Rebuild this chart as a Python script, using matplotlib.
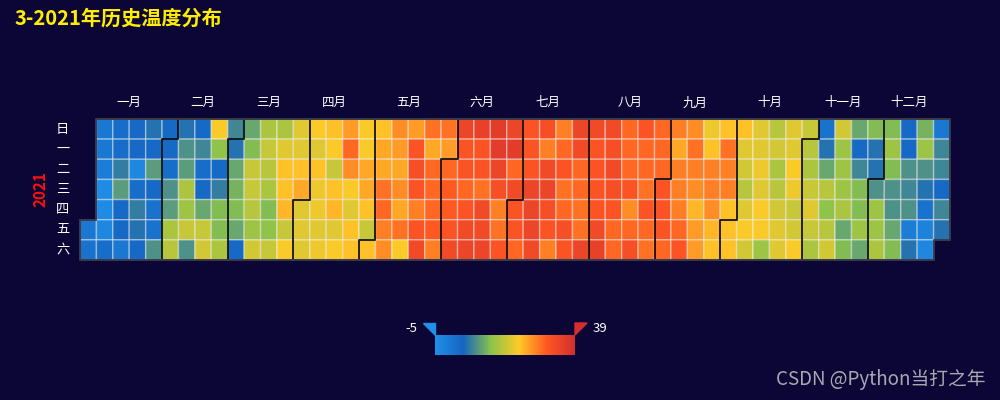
import numpy as np
import matplotlib
matplotlib.use('Agg')
import matplotlib.pyplot as plt
from matplotlib.colors import LinearSegmentedColormap, Normalize
from matplotlib.patches import Polygon
import datetime as dt

plt.rcParams['font.family'] = ['Noto Sans CJK SC', 'DejaVu Sans']

# ---------------- data ----------------
year = 2021
title = '3-2021年历史温度分布'
month_labels = ['一月', '二月', '三月', '四月', '五月', '六月',
                '七月', '八月', '九月', '十月', '十一月', '十二月']
weekday_labels = ['日', '一', '二', '三', '四', '五', '六']
vmin, vmax = -5, 39
scale_colors = ['#2090e8', '#1565c0', '#8bc34a', '#ffca28', '#ff5722', '#d32f2f']

jan = [0, 1, 0, 0, -1, -4, -4, -3, 2, 2, 2, 6, 9, 3, 3, 0, 3, 3, -3, 2, 6, 5, 3, 5, 3, 9, 3, 1, 1, 8, 3]
feb = [3, 2, 8, 9, 15, 16, 5, 8, 9, 15, 14, 17, 8, 3, 7, 2, 3, 10, 17, 18, 21, 13, 3, 6, 12, 12, 15, 7]
mar = [5, 10, 11, 12, 10, 3, 10, 12, 17, 17, 16, 14, 18, 15, 17, 16, 15, 12, 13, 17, 15, 19, 22, 22, 23, 17, 21, 19, 19, 22, 24]
apr = [19, 19, 19, 21, 19, 22, 20, 20, 19, 20, 22, 21, 17, 22, 23, 19, 21, 25, 29, 26, 21, 19, 22, 22, 21, 21, 24, 24, 22, 17]
may = [22, 22, 24, 24, 28, 29, 27, 26, 26, 25, 24, 26, 24, 28, 21, 25, 31, 32, 31, 27, 31, 33, 28, 24, 29, 29, 29, 30, 27, 28, 25]
jun = [29, 30, 30, 31, 33, 34, 31, 31, 29, 31, 33, 34, 35, 31, 31, 28, 33, 33, 34, 36, 36, 34, 32, 27, 28, 31, 34, 36, 29, 33]
jul = [31, 31, 29, 31, 31, 31, 34, 34, 34, 33, 32, 27, 33, 34, 32, 31, 27, 27, 29, 31, 28, 29, 32, 31, 34, 33, 29, 29, 28, 28, 34]
aug = [33, 31, 31, 31, 31, 33, 35, 33, 32, 33, 32, 31, 29, 29, 29, 29, 29, 31, 26, 29, 32, 31, 29, 29, 28, 31, 29, 28, 29, 29, 29]
sep = [31, 31, 31, 29, 27, 24, 27, 27, 27, 29, 31, 26, 28, 27, 26, 23, 25, 25, 20, 22, 27, 27, 26, 23, 22, 22, 28, 27, 27, 22]
octo = [22, 22, 22, 19, 18, 16, 19, 21, 18, 19, 19, 20, 19, 21, 21, 14, 16, 18, 15, 16, 18, 19, 19, 19, 19, 21, 20, 17, 18, 21, 17]
nov = [16, 15, 17, 19, 17, 15, 1, 5, 10, 16, 13, 16, 18, 18, 14, 14, 14, 15, 10, 12, 10, 3, 7, 12, 12, 14, 10, 12, 5, 5]
dec = [8, 14, 14, 15, 12, 14, 12, 8, 8, 10, 12, 3, 3, 8, 7, 8, -1, 5, 11, 14, 8, 5, 1, -2, -3, 0, 7, 7, 3, 7, 5]

monthly = [jan, feb, mar, apr, may, jun, jul, aug, sep, octo, nov, dec]

# ---------------- layout ----------------
BG = '#0c0636'
cmap = LinearSegmentedColormap.from_list('temp', scale_colors)
norm = Normalize(vmin, vmax)

temps = [v for m in monthly for v in m]
offset = (dt.date(year, 1, 1).weekday() + 1) % 7   # Sunday-first week
ncols = (offset + len(temps) - 1) // 7 + 1

grid = np.full((7, ncols), np.nan)
for i, t in enumerate(temps):
    p = i + offset
    grid[p % 7, p // 7] = t

fig = plt.figure(figsize=(10, 4), dpi=100, facecolor=BG)

ax = fig.add_axes([80 / 1000, 1 - 260 / 400, 870 / 1000, 141 / 400])
ax.set_facecolor(BG)
ax.pcolor(np.arange(ncols + 1), np.arange(8), np.ma.masked_invalid(grid),
          cmap=cmap, norm=norm, edgecolors=(1, 1, 1, 0.45), linewidth=1.0)
ax.set_xlim(0, ncols)
ax.set_ylim(7, 0)
ax.axis('off')

# month split lines and labels
starts = np.cumsum([0] + [len(m) for m in monthly])
for k in range(12):
    p0 = starts[k] + offset
    p1 = starts[k + 1] - 1 + offset
    c0, c1 = p0 // 7, p1 // 7
    ax.text((c0 + c1 + 1) / 2, -0.8, month_labels[k], color='white',
            fontsize=9, ha='center', va='center')
    if k == 0:
        continue
    c, r = p0 // 7, p0 % 7
    if r == 0:
        xs, ys = [c, c], [0, 7]
    else:
        xs, ys = [c + 1, c + 1, c, c], [0, r, r, 7]
    ax.plot(xs, ys, color='black', lw=1.4, alpha=0.85, solid_capstyle='butt', clip_on=False)

# outer outline
pe = len(temps) - 1 + offset
ce, re_ = pe // 7, pe % 7
c0, r0 = offset // 7, offset % 7
outline_x = [c0, c0 + 1, c0 + 1, ce + 1, ce + 1, ce, ce, c0, c0]
outline_y = [r0, r0, 0, 0, re_ + 1, re_ + 1, 7, 7, r0]
ax.plot(outline_x, outline_y, color='#3a3a4a', lw=1.4, clip_on=False)

for r, lab in enumerate(weekday_labels):
    ax.text(-1.05, r + 0.5, lab, color='white', fontsize=9.5, ha='center', va='center')
ax.text(-2.4, 3.5, str(year), color='#ff1010', fontsize=11, fontweight='bold',
        rotation=90, ha='center', va='center')

# title and watermark
fig.text(15 / 1000, 1 - 18 / 400, title, color='#ffee00', fontsize=14.5,
         fontweight='bold', ha='left', va='center')
fig.text(985 / 1000, 1 - 380 / 400, 'CSDN @Python当打之年', color='#a8a8b0',
         fontsize=13.5, ha='right', va='center')

# visual map
cax = fig.add_axes([435 / 1000, 1 - 355 / 400, 140 / 1000, 20 / 400])
cax.imshow(np.linspace(0, 1, 256)[None, :], aspect='auto', cmap=cmap,
           extent=[0, 1, 0, 1])
cax.set_xlim(0, 1)
cax.set_ylim(0, 1)
cax.axis('off')
h = 12 / 20
w = 12 / 140
cax.add_patch(Polygon([[-w, 1 + h], [0, 1 + h], [0, 1]], closed=True,
                      color=scale_colors[0], clip_on=False))
cax.add_patch(Polygon([[1, 1 + h], [1 + w, 1 + h], [1, 1]], closed=True,
                      color=scale_colors[-1], clip_on=False))
cax.text(-w - 0.04, 1 + h / 2 + 0.05, str(vmin), color='white', fontsize=9.5,
         ha='right', va='center')
cax.text(1 + w + 0.04, 1 + h / 2 + 0.05, str(vmax), color='white', fontsize=9.5,
         ha='left', va='center')

fig.savefig('out.png', dpi=100, facecolor=BG)
